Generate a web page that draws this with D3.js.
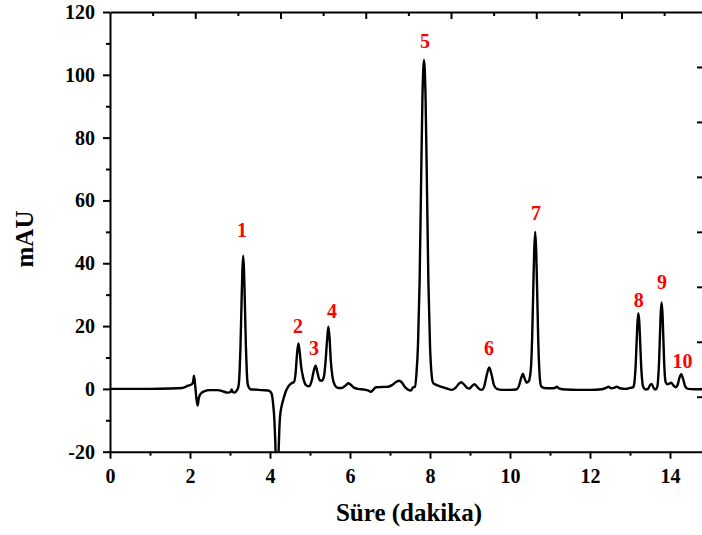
<!DOCTYPE html>
<html>
<head>
<meta charset="utf-8">
<script src="https://cdn.jsdelivr.net/npm/d3@7"></script>
<style>
  body { margin: 0; background: #fff; }
  svg { display: block; }
  .tick text { font-family: "Liberation Serif", "Times New Roman", serif; font-weight: bold; font-size: 20px; fill: #000; }
</style>
</head>
<body>
<div id="graphe"></div>
<script>
// chromatogramme : temps (min) / signal (mAU)
const temps = [
  0, 0.5, 1, 1.5, 1.8, 1.95, 2.05, 2.08, 2.1, 2.13, 2.16, 2.19, 2.22, 2.27, 2.35, 2.5, 2.7, 2.8, 2.95, 3.02, 3.04, 3.07, 3.12, 3.17,
  3.2, 3.22, 3.24, 3.26, 3.285, 3.31, 3.33, 3.35, 3.375, 3.4, 3.42, 3.44, 3.47, 3.52, 3.6, 3.8, 3.95,
  4.0, 4.04, 4.08, 4.11, 4.13, 4.15, 4.18, 4.21, 4.23, 4.25, 4.29, 4.33, 4.39, 4.46, 4.54, 4.6,
  4.64, 4.675, 4.71, 4.74, 4.78, 4.83, 4.9, 4.98, 5.04, 5.09, 5.14, 5.19, 5.24, 5.3, 5.35, 5.39, 5.43, 5.46, 5.49, 5.52, 5.56, 5.62, 5.7,
  5.8, 5.9, 5.96, 6.02, 6.1, 6.2, 6.35, 6.45, 6.52, 6.58, 6.65, 6.8, 6.95, 7.05, 7.15, 7.23, 7.3, 7.38, 7.46, 7.52, 7.58,
  7.625, 7.66, 7.7, 7.74, 7.775, 7.81, 7.85, 7.89, 7.925, 7.96, 8.0, 8.04, 8.08, 8.12, 8.25, 8.4, 8.55,
  8.65, 8.72, 8.78, 8.85, 8.93, 8.98, 9.05, 9.11, 9.17, 9.24, 9.3, 9.36, 9.42, 9.48, 9.54, 9.6, 9.67, 9.8, 10.0, 10.15,
  10.22, 10.28, 10.32, 10.36, 10.42, 10.47, 10.5, 10.53, 10.555, 10.58, 10.605, 10.63, 10.655, 10.68, 10.705, 10.73, 10.755, 10.78, 10.85,
  11.0, 11.12, 11.17, 11.22, 11.4, 11.7, 12.0, 12.3, 12.4, 12.46, 12.53, 12.6, 12.67, 12.75, 12.9, 13.0,
  13.075, 13.1, 13.12, 13.1425, 13.165, 13.1875, 13.21, 13.2325, 13.255, 13.2775, 13.3, 13.32, 13.345, 13.4, 13.45, 13.5, 13.54, 13.59, 13.63,
  13.67, 13.69, 13.706, 13.727, 13.748, 13.769, 13.79, 13.811, 13.832, 13.853, 13.874, 13.895, 13.93, 13.97, 14.03, 14.08, 14.14,
  14.19, 14.23, 14.28, 14.33, 14.38, 14.45, 14.6, 14.83
];
const signal = [
  0, 0, 0, 0.1, 0.3, 1.0, 1.5, 2.5, 4.2, 1, -3, -5.3, -3, -1.5, -0.8, -0.4, -0.4, -0.7, -1.2, -0.9, -0.2, -1.0, -1.2, -0.5,
  0.3, 1.5, 5.5, 12.5, 25.5, 38, 42.4, 38, 25.5, 12.5, 5.5, 1.8, 0.5, -0.2, -0.2, -0.4, -0.5,
  -0.8, -1.5, -5, -10, -16, -24, -28, -22, -14, -9, -5.5, -3.5, -1, 0.8, 1.8, 2.2,
  5, 11, 14.5, 12, 7, 3.5, 1.2, 0.8, 2.5, 5.5, 7.4, 5, 2.8, 2.6, 4, 9, 16, 19.8, 16, 9, 4, 1.2, 0.3,
  0.3, 1.2, 1.8, 1.3, 0.4, 0, -0.2, -0.5, -0.9, -0.3, 0.5, 0.6, 0.7, 1.2, 2.2, 2.6, 2, 0.5, -0.3, -0.5, 0.5,
  0.7, 4.6, 14, 34, 63.5, 92, 104.7, 92, 63.5, 34, 14, 4.6, 1.8, 1.5, 0.8, 0.2, -0.3,
  0.5, 1.6, 2.1, 1.4, 0.3, 0.1, 0.9, 1.5, 0.8, -0.1, -0.3, 1, 4.5, 6.8, 4.5, 1.2, 0, -0.3, -0.3, -0.2,
  0.8, 3.5, 4.8, 3.5, 2, 2.5, 4, 8, 17, 30.5, 44, 50, 44, 30.5, 16, 6.8, 2.2, 0.8, 0.3,
  0.2, 0.3, 0.7, 0.2, -0.2, -0.3, -0.3, -0.1, 0.3, 0.7, 0.2, 0.3, 0.7, 0.2, 0, 0.3,
  0.5, 1.2, 3.3, 7.7, 14.7, 21.2, 24.1, 21.2, 14.7, 7.7, 3.3, 1.1, 0.3, -0.2, 0, 1.2, 1.6, 0.3, -0.2,
  0.3, 1.2, 3.7, 8.8, 16.8, 24.2, 27.5, 24.2, 16.8, 8.8, 3.7, 2, 1.5, 1.6, 2, 1.2, 0.5,
  1.2, 3.3, 4.7, 3, 0.8, 0, -0.1, -0.1
];

// étiquettes des pics (position en temps / mAU)
const picNoms = ["1", "2", "3", "4", "5", "6", "7", "8", "9", "10"];
const picTemps = [3.3, 4.7, 5.1, 5.55, 7.875, 9.475, 10.65, 13.22, 13.8, 14.31];
const picHaut = [48.4, 17.8, 10.8, 22.6, 108.6, 10.8, 53.8, 26.1, 31.8, 6.7];

const xTicks = [0, 2, 4, 6, 8, 10, 12, 14];
const xMineurs = [1, 3, 5, 7, 9, 11, 13];
const yTicks = [-20, 0, 20, 40, 60, 80, 100, 120];
const yMineurs = [-10, 10, 30, 50, 70, 90, 110];

const largeur = 702, hauteur = 535;
const gauche = 110, droite = 703, haut = 12, bas = 451.7;

const svg = d3.select("#graphe").append("svg").attr("width", largeur).attr("height", hauteur);

const x = d3.scaleLinear().domain([0, 14.825]).range([gauche, droite]);
const y = d3.scaleLinear().domain([-20, 120]).range([bas, haut]);
// axes du haut et de droite : échelle propre (graduations seulement)
const xHaut = d3.scaleLinear().domain([0, (droite - gauche) / 85.25]).range([gauche, droite]);
const yDroite = d3.scaleLinear().domain([0, 8]).range([bas, haut]);

svg.append("clipPath").attr("id", "zone")
  .append("rect").attr("x", gauche).attr("y", haut).attr("width", droite - gauche).attr("height", bas - haut);

const points = temps.map((t, i) => [t, signal[i]]);
const ligne = d3.line().x(d => x(d[0])).y(d => y(d[1])).curve(d3.curveMonotoneX);

svg.append("path")
  .attr("d", ligne(points))
  .attr("clip-path", "url(#zone)")
  .attr("fill", "none").attr("stroke", "#000").attr("stroke-width", 2.4).attr("stroke-linejoin", "round");

function style(g) {
  g.selectAll("path.domain").attr("stroke", "#000").attr("stroke-width", 2);
  g.selectAll(".tick line").attr("stroke", "#000").attr("stroke-width", 2);
}

// axe du bas
svg.append("g").attr("transform", `translate(0,${bas})`)
  .call(d3.axisBottom(x).tickValues(xTicks).tickSize(7).tickPadding(10).tickSizeOuter(0).tickFormat(d => String(d)))
  .call(style);
svg.append("g").attr("transform", `translate(0,${bas})`)
  .call(d3.axisBottom(x).tickValues(xMineurs).tickSize(4).tickFormat(""))
  .call(g => g.select(".domain").remove()).call(style);

// axe de gauche
svg.append("g").attr("transform", `translate(${gauche},0)`)
  .call(d3.axisLeft(y).tickValues(yTicks).tickSize(7).tickPadding(8).tickSizeOuter(0).tickFormat(d => String(d)))
  .call(style);
svg.append("g").attr("transform", `translate(${gauche},0)`)
  .call(d3.axisLeft(y).tickValues(yMineurs).tickSize(4).tickFormat(""))
  .call(g => g.select(".domain").remove()).call(style);

// axe du haut (graduations vers l'intérieur)
svg.append("g").attr("transform", `translate(0,${haut})`)
  .call(d3.axisBottom(xHaut).tickValues(d3.range(1, 7)).tickSize(7).tickSizeOuter(0).tickFormat(""))
  .call(style);
svg.append("g").attr("transform", `translate(0,${haut})`)
  .call(d3.axisBottom(xHaut).tickValues(d3.range(0.5, 7, 1)).tickSize(4).tickFormat(""))
  .call(g => g.select(".domain").remove()).call(style);

// axe de droite
svg.append("g").attr("transform", `translate(${droite},0)`)
  .call(d3.axisLeft(yDroite).tickValues(d3.range(1, 8)).tickSize(6).tickSizeOuter(0).tickFormat(""))
  .call(style);

// étiquettes des pics
svg.append("g").selectAll("text").data(picNoms).join("text")
  .attr("x", (d, i) => x(picTemps[i]))
  .attr("y", (d, i) => y(picHaut[i]))
  .attr("text-anchor", "middle")
  .attr("font-family", "Liberation Serif, serif").attr("font-weight", "bold").attr("font-size", 20)
  .attr("fill", "#ff0000")
  .text(d => d);

// titres
svg.append("text").attr("x", 409).attr("y", 521).attr("text-anchor", "middle")
  .attr("font-family", "Liberation Serif, serif").attr("font-weight", "bold").attr("font-size", 25)
  .text("Süre (dakika)");
svg.append("text").attr("transform", "translate(33,239) rotate(-90)").attr("text-anchor", "middle")
  .attr("font-family", "Liberation Serif, serif").attr("font-weight", "bold").attr("font-size", 25)
  .text("mAU");
</script>
</body>
</html>
